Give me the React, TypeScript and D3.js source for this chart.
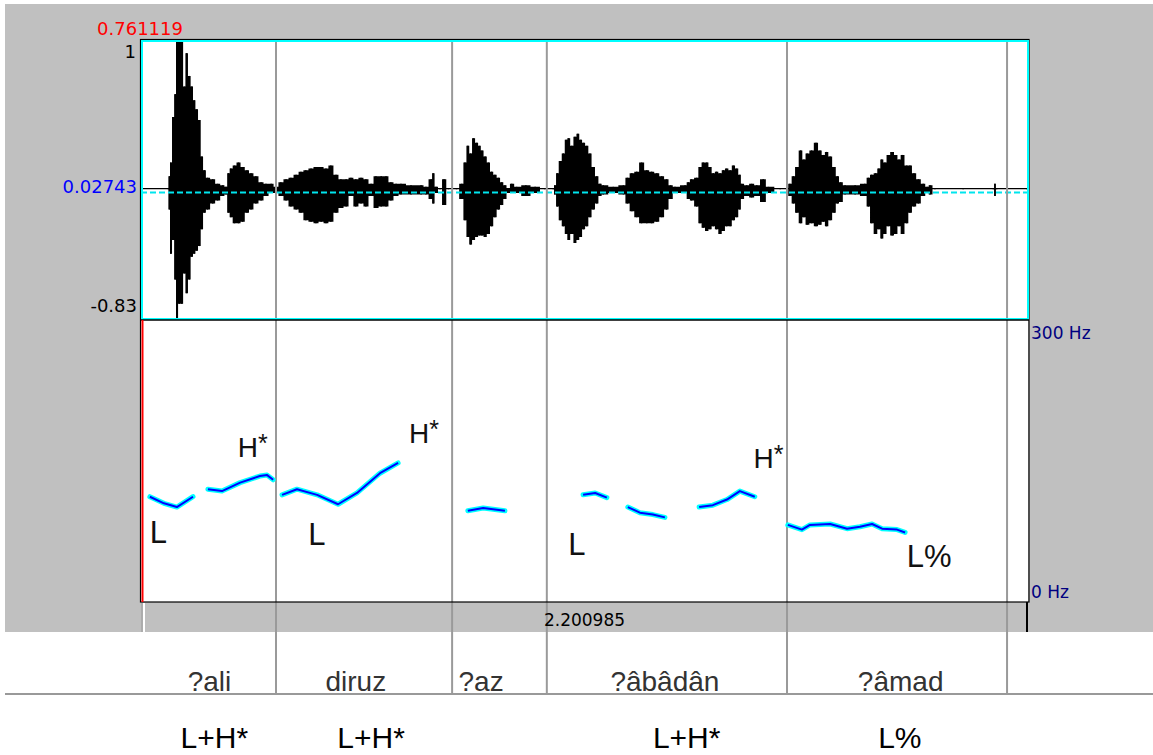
import * as d3 from "d3";

// visible selection, seconds
const totalDur = 2.200985;
const ampTicks = ["1", "0.02743", "-0.83"];

// waveform envelope: time (s), upper and lower amplitude
const waveT = [
  0, 0.068, 0.07, 0.074, 0.08, 0.085, 0.089, 0.095, 0.101, 0.108, 0.113, 0.12, 0.126, 0.132, 0.138, 0.145,
  0.151, 0.157, 0.165, 0.178, 0.19, 0.203, 0.211, 0.217, 0.223, 0.232, 0.242, 0.252, 0.263, 0.273, 0.285,
  0.298, 0.31, 0.323, 0.335, 0.347, 0.36, 0.372, 0.385, 0.397, 0.409, 0.422, 0.434, 0.447, 0.459, 0.471,
  0.484, 0.496, 0.509, 0.521, 0.533, 0.546, 0.558, 0.571, 0.583, 0.596, 0.608, 0.62, 0.633, 0.645, 0.67,
  0.695, 0.707, 0.72, 0.725, 0.732, 0.742, 0.752, 0.763, 0.783, 0.796, 0.804, 0.811, 0.818, 0.825, 0.833,
  0.84, 0.846, 0.854, 0.862, 0.87, 0.878, 0.887, 0.895, 0.903, 0.911, 0.92, 0.932, 0.955, 0.978, 1.002,
  1.023, 1.027, 1.033, 1.04, 1.048, 1.055, 1.061, 1.069, 1.077, 1.084, 1.091, 1.098, 1.106, 1.114, 1.122,
  1.131, 1.139, 1.147, 1.172, 1.197, 1.207, 1.218, 1.23, 1.242, 1.255, 1.267, 1.28, 1.292, 1.304, 1.314,
  1.325, 1.35, 1.358, 1.366, 1.379, 1.387, 1.395, 1.404, 1.412, 1.42, 1.428, 1.437, 1.445, 1.453, 1.462,
  1.47, 1.478, 1.486, 1.49, 1.503, 1.515, 1.528, 1.544, 1.557, 1.586, 1.602, 1.61, 1.619, 1.627, 1.637,
  1.645, 1.653, 1.664, 1.675, 1.685, 1.693, 1.701, 1.71, 1.72, 1.728, 1.736, 1.747, 1.772, 1.796, 1.805,
  1.813, 1.823, 1.831, 1.838, 1.846, 1.854, 1.864, 1.873, 1.881, 1.889, 1.9, 1.908, 1.918, 1.929, 1.941,
  1.951, 1.958, 1.97, 2.04, 2.115, 2.119, 2.123, 2.198,
];
const waveMax = [
  0.032, 0.032, 0.11, 0.2, 0.5, 0.65, 1, 1, 1, 0.7, 0.92, 0.77, 0.7, 0.61, 0.55, 0.48,
  0.24, 0.15, 0.1, 0.09, 0.06, 0.05, 0.04, 0.13, 0.16, 0.18, 0.2, 0.17, 0.15, 0.13, 0.11,
  0.07, 0.06, 0.06, 0.04, 0.07, 0.09, 0.1, 0.12, 0.14, 0.15, 0.16, 0.17, 0.17, 0.16, 0.18,
  0.12, 0.09, 0.09, 0.1, 0.09, 0.1, 0.09, 0.06, 0.11, 0.11, 0.11, 0.07, 0.06, 0.06, 0.05,
  0.05, 0.04, 0.09, 0.13, 0.04, 0.032, 0.09, 0.032, 0.032, 0.06, 0.2, 0.31, 0.26, 0.36, 0.33,
  0.31, 0.28, 0.24, 0.2, 0.14, 0.12, 0.1, 0.07, 0.05, 0.032, 0.06, 0.04, 0.05, 0.04, 0.032,
  0.032, 0.05, 0.13, 0.21, 0.26, 0.35, 0.36, 0.31, 0.37, 0.39, 0.35, 0.33, 0.31, 0.26, 0.17,
  0.11, 0.06, 0.05, 0.04, 0.05, 0.1, 0.13, 0.14, 0.2, 0.15, 0.14, 0.13, 0.11, 0.09, 0.05,
  0.04, 0.05, 0.07, 0.09, 0.1, 0.17, 0.2, 0.2, 0.17, 0.13, 0.14, 0.13, 0.15, 0.16, 0.15,
  0.18, 0.16, 0.12, 0.06, 0.05, 0.06, 0.05, 0.09, 0.04, 0.032, 0.032, 0.06, 0.11, 0.17, 0.28,
  0.22, 0.26, 0.28, 0.33, 0.28, 0.25, 0.27, 0.24, 0.17, 0.11, 0.07, 0.05, 0.05, 0.06, 0.1,
  0.12, 0.13, 0.16, 0.22, 0.2, 0.25, 0.27, 0.25, 0.22, 0.25, 0.18, 0.18, 0.13, 0.09, 0.06,
  0.04, 0.05, 0.032, 0.032, 0.032, 0.06, 0.032, 0.032,
];
const waveMin = [
  0.024, 0.024, -0.11, -0.4, -0.31, -0.57, -0.83, -0.73, -0.73, -0.53, -0.66, -0.57, -0.42, -0.4, -0.38, -0.35,
  -0.24, -0.13, -0.11, -0.07, -0.05, -0.02, -0.01, -0.13, -0.16, -0.2, -0.2, -0.19, -0.13, -0.11, -0.07,
  -0.05, -0.02, 0, 0, -0.02, -0.05, -0.09, -0.11, -0.13, -0.18, -0.19, -0.2, -0.19, -0.2, -0.19,
  -0.13, -0.1, -0.09, -0.02, -0.09, -0.07, -0.09, -0.02, -0.1, -0.09, -0.09, -0.05, -0.02, -0.01, -0.01,
  -0.01, -0.01, -0.04, -0.07, 0, 0.024, -0.08, 0.024, 0.024, -0.04, -0.18, -0.29, -0.34, -0.31, -0.29,
  -0.28, -0.28, -0.29, -0.27, -0.22, -0.16, -0.11, -0.08, -0.04, 0, 0, 0, -0.02, 0, 0.024,
  0.024, -0.01, -0.09, -0.18, -0.22, -0.27, -0.31, -0.27, -0.33, -0.31, -0.29, -0.24, -0.22, -0.16, -0.11,
  -0.07, -0.02, -0.01, 0, -0.01, -0.07, -0.12, -0.16, -0.2, -0.2, -0.2, -0.19, -0.16, -0.11, -0.04,
  0, 0, -0.04, -0.05, -0.09, -0.2, -0.23, -0.25, -0.24, -0.22, -0.24, -0.27, -0.25, -0.22, -0.22,
  -0.18, -0.16, -0.11, -0.04, -0.02, -0.03, -0.02, -0.06, 0, 0.024, 0.024, -0.02, -0.07, -0.13, -0.2,
  -0.16, -0.21, -0.2, -0.22, -0.21, -0.19, -0.22, -0.18, -0.13, -0.07, -0.06, -0.01, -0.01, -0.02, -0.09,
  -0.2, -0.27, -0.24, -0.3, -0.27, -0.22, -0.28, -0.27, -0.22, -0.27, -0.2, -0.13, -0.09, -0.07, -0.02,
  0, -0.01, 0.024, 0.024, 0.024, -0.02, 0.024, 0.024,
];

// pitch track (s, Hz), one list per voiced stretch
const pitchTrack: [number, number][][] = [
  [[0.022, 112], [0.057, 105], [0.089, 101], [0.129, 112]],
  [[0.166, 120], [0.201, 118], [0.246, 127], [0.295, 134], [0.313, 135], [0.328, 130]],
  [[0.35, 114], [0.387, 120], [0.437, 114], [0.489, 104], [0.536, 116], [0.593, 137], [0.638, 148]],
  [[0.811, 97], [0.849, 100], [0.903, 97]],
  [[1.097, 114], [1.127, 116], [1.156, 111]],
  [[1.208, 101], [1.238, 95], [1.27, 93], [1.3, 90]],
  [[1.385, 101], [1.419, 103], [1.454, 109], [1.486, 118], [1.523, 112]],
  [[1.605, 82], [1.64, 77], [1.66, 82], [1.71, 83], [1.752, 78], [1.784, 80], [1.814, 83], [1.839, 78], [1.876, 77], [1.896, 74]],
];

// tones written on the pitch panel: label, time, Hz of baseline
const toneText = ["L", "H*", "L", "H*", "L", "H*", "L%"];
const toneT = [0.022, 0.24, 0.415, 0.665, 1.06, 1.52, 1.9];
const toneHz = [63, 154, 61, 169, 50, 143, 37];

// word tier
const boundaries = [0.335, 0.772, 1.007, 1.603, 2.149];
const words = ["?ali", "diruz", "?az", "?âbâdân", "?âmad"];
const wordMid = [0.17, 0.533, 0.844, 1.3, 1.885];
const accents = ["L+H*", "L+H*", "L+H*", "L%"];
const accentMid = [0.182, 0.571, 1.354, 1.883];

const W = 1153;
const H = 755;
const left = 141;
const right = 1028;
const top = 40;
const mid = 320;
const bottom = 602;
const stripBottom = 632;
const tierLine = 694;

const praatFont = "'DejaVu Sans', Verdana, sans-serif";
const textFont = "'Liberation Sans', Arial, sans-serif";

export default function App() {
  const x = d3.scaleLinear().domain([0, totalDur]).range([left, right]);
  const yAmp = d3.scaleLinear().domain([-0.83, 1]).range([mid - 1, top + 1]);
  const yHz = d3.scaleLinear().domain([0, 300]).range([bottom, mid]);

  const wave = waveT.map((t, i) => ({ t, hi: waveMax[i], lo: waveMin[i] }));
  const waveArea = d3
    .area<{ t: number; hi: number; lo: number }>()
    .curve(d3.curveStep)
    .x((d) => x(d.t))
    .y0((d) => yAmp(d.lo))
    .y1((d) => yAmp(d.hi));

  const pitchLine = d3
    .line<[number, number]>()
    .x((d) => x(d[0]))
    .y((d) => yHz(d[1]));

  return (
    <svg
      width={W}
      height={H}
      style={{ position: "absolute", left: 0, top: 0, background: "#fff" }}
    >
      <rect x={5} y={4} width={W - 5} height={stripBottom - 4} fill="#c0c0c0" />
      <rect x={left} y={top} width={right - left} height={bottom - top} fill="#fff" />

      {/* waveform */}
      <path d={waveArea(wave) || ""} fill="#000" />
      {wave.map((d, i) => (
        <line key={i} x1={x(d.t)} x2={x(d.t)} y1={yAmp(d.hi)} y2={yAmp(d.lo)} stroke="#000" strokeWidth={1.5} />
      ))}
      <line
        x1={left}
        x2={right}
        y1={yAmp(0) - 0.5}
        y2={yAmp(0) - 0.5}
        stroke="#00e5ee"
        strokeWidth={2}
        strokeDasharray="6,3"
      />

      {/* interval boundaries */}
      {boundaries.map((b, i) => (
        <line key={i} x1={x(b)} x2={x(b)} y1={top} y2={tierLine} stroke="#9a9a9a" strokeWidth={2} />
      ))}

      {/* pitch */}
      {pitchTrack.map((seg, i) => (
        <g key={i}>
          <path d={pitchLine(seg) || ""} fill="none" stroke="#00ffff" strokeWidth={5} strokeLinejoin="round" strokeLinecap="round" />
          <path d={pitchLine(seg) || ""} fill="none" stroke="#0000ff" strokeWidth={2} strokeLinejoin="round" />
        </g>
      ))}

      {toneText.map((s, i) => {
        const isH = s.startsWith("H");
        return (
          <text
            key={i}
            x={x(toneT[i])}
            y={yHz(toneHz[i])}
            fontFamily={textFont}
            fontSize={isH ? 28 : 31}
            fill="#111"
          >
            {isH ? (
              <>
                H
                <tspan fontSize={25} dy={-5}>
                  *
                </tspan>
              </>
            ) : (
              s
            )}
          </text>
        );
      })}

      {/* frames */}
      <rect x={left - 0.5} y={top - 0.5} width={right - left + 1.5} height={bottom - top + 0.5} fill="none" stroke="#000" strokeWidth={1.2} />
      <rect x={left + 1} y={top + 1} width={right - left - 1} height={mid - top - 2} fill="none" stroke="#00ffff" strokeWidth={2} />
      <line x1={left} x2={right + 1} y1={mid} y2={mid} stroke="#000" strokeWidth={1.5} />
      <line x1={left + 1.5} x2={left + 1.5} y1={mid} y2={bottom} stroke="#ff0000" strokeWidth={2} />

      {/* amplitude labels */}
      <text x={140} y={35} textAnchor="middle" fontFamily={praatFont} fontSize={18} fill="#ff0000">
        0.761119
      </text>
      <text x={136} y={58} textAnchor="end" fontFamily={praatFont} fontSize={18} fill="#000">
        {ampTicks[0]}
      </text>
      <text x={137} y={193} textAnchor="end" fontFamily={praatFont} fontSize={18} fill="#0000ff">
        {ampTicks[1]}
      </text>
      <text x={137} y={312} textAnchor="end" fontFamily={praatFont} fontSize={18} fill="#000">
        {ampTicks[2]}
      </text>
      <text x={right + 3} y={339} fontFamily={praatFont} fontSize={17} fill="#000080">
        300 Hz
      </text>
      <text x={right + 3} y={598} fontFamily={praatFont} fontSize={17} fill="#000080">
        0 Hz
      </text>

      {/* time strip */}
      <line x1={144} x2={144} y1={bottom + 1} y2={stripBottom} stroke="#fff" strokeWidth={2} />
      <line x1={142} x2={142} y1={bottom + 1} y2={stripBottom} stroke="#999" strokeWidth={1} />
      <line x1={right - 1} x2={right - 1} y1={bottom} y2={stripBottom} stroke="#000" strokeWidth={2} />
      <text x={(left + right) / 2} y={626} textAnchor="middle" fontFamily={praatFont} fontSize={17} fill="#000">
        {totalDur.toFixed(6)}
      </text>

      {/* tiers */}
      <line x1={5} x2={W} y1={tierLine} y2={tierLine} stroke="#999" strokeWidth={2} />
      {words.map((w, i) => (
        <text key={i} x={x(wordMid[i])} y={691} textAnchor="middle" fontFamily={textFont} fontSize={28} fill="#333">
          {w}
        </text>
      ))}
      {accents.map((a, i) => (
        <text key={i} x={x(accentMid[i])} y={748} textAnchor="middle" fontFamily={textFont} fontSize={30} fill="#000">
          {a}
        </text>
      ))}
    </svg>
  );
}
